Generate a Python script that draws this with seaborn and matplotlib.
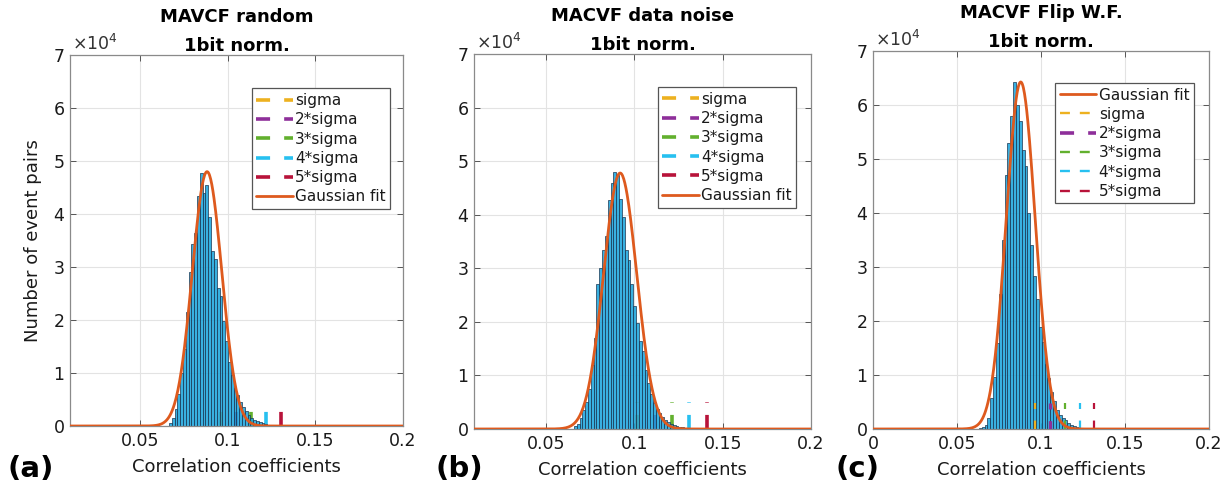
import numpy as np
import pandas as pd
import matplotlib
matplotlib.use("Agg")
import matplotlib.pyplot as plt
from matplotlib.lines import Line2D
import seaborn as sns

# ---------------- data (counts in units of 10^4) ----------------
titles = ["MAVCF random\n1bit norm.", "MACVF data noise\n1bit norm.", "MACVF Flip W.F.\n1bit norm."]
panel_tags = ["(a)", "(b)", "(c)"]

a_first_edge, a_bin_width = 0.0666, 0.0016
counts_a = [0.05, 0.15, 0.33, 0.6, 1.0, 1.45, 2.15, 2.9, 3.43, 3.65, 4.34, 4.78, 4.4, 4.55,
            3.95, 3.3, 3.15, 2.6, 2.45, 1.98, 1.6, 1.2, 0.97, 0.72, 0.58, 0.45, 0.36, 0.28,
            0.21, 0.16, 0.12, 0.09, 0.07, 0.05, 0.03, 0.02, 0.01]

b_first_edge, b_bin_width = 0.0657, 0.0016
counts_b = [0.05, 0.1, 0.2, 0.35, 0.5, 0.75, 1.2, 1.7, 2.7, 3.0, 3.35, 3.6, 4.27, 4.6, 4.8,
            4.75, 4.3, 3.95, 3.35, 3.15, 2.7, 2.3, 1.98, 1.65, 1.45, 1.1, 0.85, 0.66, 0.48,
            0.38, 0.3, 0.23, 0.17, 0.13, 0.1, 0.07, 0.05, 0.04, 0.03, 0.02, 0.01]

c_first_edge, c_bin_width = 0.063, 0.0017
counts_c = [0.01, 0.03, 0.08, 0.2, 0.57, 0.97, 1.6, 2.5, 3.5, 4.7, 5.3, 5.8, 6.43, 6.0, 5.7,
            5.17, 4.87, 4.0, 3.4, 2.84, 2.41, 1.89, 1.61, 1.21, 0.94, 0.69, 0.51, 0.36, 0.26,
            0.2, 0.16, 0.11, 0.08, 0.05, 0.03, 0.02, 0.01]

# Gaussian fit parameters (mu, sigma, amplitude in 10^4)
gauss_a = (0.0883, 0.0084, 4.80)
gauss_b = (0.0919, 0.0094, 4.78)
gauss_c = (0.0879, 0.0086, 6.43)

# sigma-threshold positions (1..5 sigma)
sigma_lines_a = [0.0962, 0.1047, 0.1132, 0.1217, 0.1302]
sigma_lines_b = [0.1017, 0.1117, 0.1213, 0.1311, 0.1410]
sigma_lines_c = [0.0964, 0.1053, 0.1140, 0.1229, 0.1318]
sigma_height_ab = 0.5
sigma_height_c = 0.48

sigma_labels = ["sigma", "2*sigma", "3*sigma", "4*sigma", "5*sigma"]
sigma_colors = ["#EDB120", "#8E2F9A", "#62B02E", "#27C0F0", "#B8133A"]

xlims = [(0.0102, 0.2), (0.0092, 0.2), (0.0, 0.2)]
xticks_list = [[0.05, 0.1, 0.15, 0.2], [0.05, 0.1, 0.15, 0.2], [0, 0.05, 0.1, 0.15, 0.2]]
xticklabels_list = [["0.05", "0.1", "0.15", "0.2"], ["0.05", "0.1", "0.15", "0.2"],
                    ["0", "0.05", "0.1", "0.15", "0.2"]]
yticks = [0, 1, 2, 3, 4, 5, 6, 7]
ytick_labels = ["0", "1", "2", "3", "4", "5", "6", "7"]

# ---------------- style ----------------
sns.set_theme(style="whitegrid")
plt.rcParams["font.family"] = ["DejaVu Sans"]
plt.rcParams["text.color"] = "#1a1a1a"
plt.rcParams["axes.labelcolor"] = "#1a1a1a"
plt.rcParams["xtick.color"] = "#1a1a1a"
plt.rcParams["ytick.color"] = "#1a1a1a"
plt.rcParams["grid.color"] = "#e3e3e3"
plt.rcParams["grid.linewidth"] = 0.8

BAR_FACE = "#16a3db"
BAR_EDGE = "#1b3550"
FIT_COLOR = "#DE5A1E"

fig = plt.figure(figsize=(12.31, 4.9), dpi=100)
ax_rects = [(0.0569, 0.1306, 0.2705, 0.757),
            (0.3851, 0.1245, 0.2738, 0.765),
            (0.7092, 0.1245, 0.2730, 0.771)]

panels = [
    (a_first_edge, a_bin_width, counts_a, gauss_a, sigma_lines_a),
    (b_first_edge, b_bin_width, counts_b, gauss_b, sigma_lines_b),
    (c_first_edge, c_bin_width, counts_c, gauss_c, sigma_lines_c),
]

for i, (first, width, counts, gauss, slines) in enumerate(panels):
    ax = fig.add_axes(ax_rects[i])
    n = len(counts)
    edges = [float(first + width * k) for k in range(n + 1)]
    centers = [(edges[k] + edges[k + 1]) / 2 for k in range(n)]
    df = pd.DataFrame({"corr": centers, "count": counts})

    # sigma lines (under the semi-transparent bars for a/b, above for c)
    if i < 2:
        for xv, col in zip(slines, sigma_colors):
            ax.plot([xv, xv], [0, sigma_height_ab], color=col, lw=2.6,
                    dashes=(3.9, 3.4), zorder=1.5)

    sns.histplot(data=df, x="corr", weights="count", bins=edges, ax=ax,
                 color=BAR_FACE, alpha=0.85, edgecolor=BAR_EDGE, linewidth=0.5,
                 zorder=2)

    if i == 2:
        for j, (xv, col) in enumerate(zip(slines, sigma_colors)):
            ax.plot([xv, xv], [0, sigma_height_c], color=col,
                    lw=2.4 if j == 1 else 1.6, dashes=(3.8, 5.2) if j != 1 else (2.5, 3.5),
                    zorder=3)

    mu, sg, amp = gauss
    xs = np.linspace(xlims[i][0], xlims[i][1], 600)
    ys = amp * np.exp(-0.5 * ((xs - mu) / sg) ** 2)
    sns.lineplot(x=xs, y=ys, ax=ax, color=FIT_COLOR, lw=2.0, zorder=4)

    ax.set_xlim(*xlims[i])
    ax.set_ylim(0, 7)
    ax.set_xticks(xticks_list[i])
    ax.set_xticklabels(xticklabels_list[i], fontsize=12.5)
    ax.set_yticks(yticks)
    ax.set_yticklabels(ytick_labels, fontsize=12.5)
    ax.tick_params(direction="in", length=4, width=0.7, color="#555555",
                   top=True, right=True, bottom=True, left=True, pad=4)
    ax.grid(True, zorder=0)
    ax.set_axisbelow(True)
    for sp in ax.spines.values():
        sp.set_visible(True)
        sp.set_linewidth(0.9)
        sp.set_color("#8a8a8a")

    ax.set_xlabel("Correlation coefficients", fontsize=13, labelpad=6)
    if i == 0:
        ax.set_ylabel("Number of event pairs", fontsize=13, labelpad=8)
    else:
        ax.set_ylabel("")
    ax.set_title(titles[i], fontsize=13, fontweight="bold", pad=3, linespacing=1.8,
                 color="black")
    ax.text(0.005, 1.003, r"$\times10^4$", transform=ax.transAxes, fontsize=12.5,
            ha="left", va="bottom", color="#333333")

    # legend
    sig_handles = []
    for j, (lab, col) in enumerate(zip(sigma_labels, sigma_colors)):
        if i < 2:
            h = Line2D([], [], color=col, lw=2.6, dashes=(3.9, 3.9), label=lab)
        else:
            if j == 1:
                h = Line2D([], [], color=col, lw=2.6, dashes=(3.9, 3.9), label=lab)
            else:
                h = Line2D([], [], color=col, lw=1.7, dashes=(4.2, 4.2), label=lab)
        sig_handles.append(h)
    fit_handle = Line2D([], [], color=FIT_COLOR, lw=2.0, label="Gaussian fit")
    if i < 2:
        handles = sig_handles + [fit_handle]
        loc_anchor = [(0.545, 0.91), (0.545, 0.912)][i]
    else:
        handles = [fit_handle] + sig_handles
        loc_anchor = (0.542, 0.916)
    leg = ax.legend(handles=handles, loc="upper left", bbox_to_anchor=loc_anchor,
                    fontsize=11, handlelength=2.4, handletextpad=0.15,
                    labelspacing=0.28, borderpad=0.3, borderaxespad=0.0,
                    frameon=True, fancybox=False, framealpha=1.0, edgecolor="#555555")
    leg.get_frame().set_linewidth(0.9)
    leg.set_zorder(10)

# panel tags
tag_x = [8 / 1231, 436 / 1231, 836 / 1231]
for tx, tag in zip(tag_x, panel_tags):
    fig.text(tx, 0.043, tag, fontsize=21, fontweight="bold", ha="left", va="center",
             color="black")

fig.savefig("out.png", dpi=100, facecolor="white")
